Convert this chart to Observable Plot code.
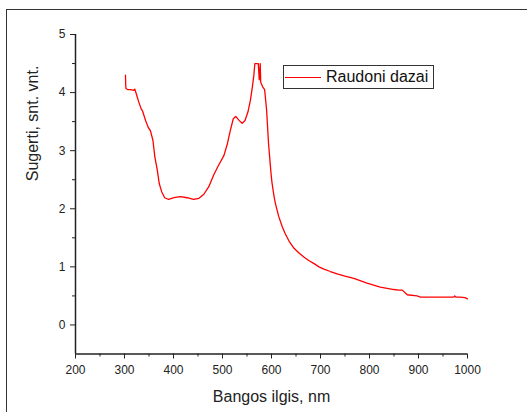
<!DOCTYPE html>
<html>
<head>
<meta charset="utf-8">
<script src="https://cdn.jsdelivr.net/npm/d3@7"></script>
<script src="https://cdn.jsdelivr.net/npm/@observablehq/plot@0.6"></script>
<style>
  html, body { margin: 0; padding: 0; background: #fff; }
  #wrap { position: relative; width: 527px; height: 412px; overflow: hidden; font-family: "Liberation Sans", Arial, sans-serif; }
  #frame { position: absolute; left: 6px; top: 9px; width: 540px; height: 420px; border-left: 1.5px solid #333; border-top: 1.5px solid #333; }
  #legend { position: absolute; left: 283px; top: 65px; width: 149px; height: 22px; border: 1.5px solid #333; background: #fff; display: flex; align-items: center; }
  #legend .sw { width: 36px; height: 0; border-top: 1.5px solid #ff0000; margin-left: 1px; margin-right: 5px; }
  #legend .lb { font-size: 16px; color: #111; white-space: nowrap; }
  svg { position: absolute; left: 0; top: 0; }
</style>
</head>
<body>
<div id="wrap"><div id="frame"></div></div>
<script>
// Wavelength (nm)
const wavelength = [302,302.5,303,307,313,319,321,324,329,334,337,343,348,353,358,362,367,371,376,382,390,401,414,428,437,441,452,462,472,482,492,503,510,516,522,527,533,540,546,552,557,561,564,566,569,573,575,577,578,582,586,590,594,599,601,605,608,615,622,628,636,645,656,666,676,686,697,707,720,734,750,768,795,822,850,860,867,877,897,904,940,972,974,976,985,995,1000];
// Absorbance (arb. units)
const absorbance = [4.30,4.13,4.07,4.05,4.05,4.04,4.06,3.98,3.84,3.72,3.68,3.52,3.41,3.34,3.18,2.89,2.66,2.43,2.29,2.19,2.16,2.19,2.21,2.19,2.17,2.16,2.18,2.25,2.38,2.58,2.75,2.92,3.12,3.35,3.55,3.59,3.53,3.47,3.52,3.67,3.87,4.10,4.30,4.50,4.50,4.50,4.22,4.50,4.18,4.10,4.05,3.70,3.12,2.61,2.45,2.22,2.09,1.86,1.69,1.57,1.44,1.33,1.24,1.17,1.11,1.06,1.00,0.96,0.92,0.88,0.84,0.80,0.72,0.65,0.61,0.60,0.60,0.52,0.50,0.48,0.48,0.48,0.50,0.48,0.48,0.47,0.45];
const xMajor = [200,300,400,500,600,700,800,900,1000];
const xMinor = [250,350,450,550,650,750,850,950];
const yMajor = [0,1,2,3,4,5];
const yMinor = [0.5,1.5,2.5,3.5,4.5];
const xTitle = "Bangos ilgis, nm";
const yTitle = "Sugerti, snt. vnt.";
const seriesName = "Raudoni dazai";

const data = wavelength.map((w, i) => ({w, a: absorbance[i]}));

const chart = Plot.plot({
  width: 527,
  height: 412,
  marginLeft: 75,
  marginRight: 60,
  marginTop: 34,
  marginBottom: 58.5,
  style: {fontFamily: "'Liberation Sans', Arial, sans-serif", fontSize: "12px", color: "#222", background: "transparent"},
  x: {domain: [200, 1000], label: null},
  y: {domain: [-0.5, 5], label: null},
  marks: [
    Plot.axisX({ticks: xMajor, tickSize: 5, tickPadding: 6, tickFormat: d => String(d), label: null}),
    Plot.axisX({ticks: xMinor, tickSize: 3, text: null, label: null}),
    Plot.axisY({ticks: yMajor, tickSize: 5, tickPadding: 5, tickFormat: d => String(d), label: null}),
    Plot.axisY({ticks: yMinor, tickSize: 3, text: null, label: null}),
    Plot.ruleY([-0.5], {stroke: "#222", strokeWidth: 1.5}),
    Plot.ruleX([200], {stroke: "#222", strokeWidth: 1.5}),
    Plot.line(data, {x: "w", y: "a", stroke: "#ff0000", strokeWidth: 1.3}),
    Plot.text([xTitle], {frameAnchor: "bottom", dy: 48, fontSize: 16, fill: "#222"}),
    Plot.text([yTitle], {frameAnchor: "left", rotate: -90, dx: -43, dy: -13, fontSize: 16, fill: "#222"})
  ]
});
const wrap = document.getElementById("wrap");
wrap.appendChild(chart);
const lg = document.createElement("div");
lg.id = "legend";
lg.innerHTML = '<div class="sw"></div><div class="lb"></div>';
lg.querySelector(".lb").textContent = seriesName;
wrap.appendChild(lg);
</script>
</body>
</html>
